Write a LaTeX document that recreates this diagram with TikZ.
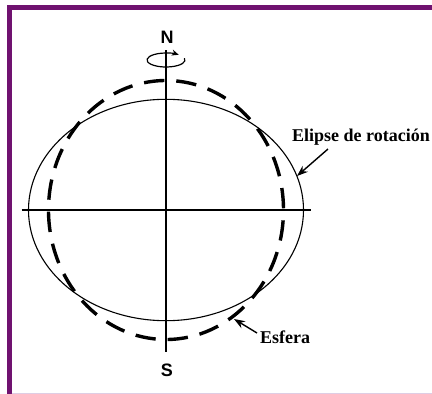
\documentclass[tikz,border=0pt]{standalone}
\usepackage{fontspec}
\setmainfont{Liberation Serif}
\setsansfont{Liberation Sans}
\usetikzlibrary{arrows.meta}
\definecolor{marco}{RGB}{112,18,112}
\definecolor{marcoclaro}{RGB}{222,205,228}
\begin{document}
\begin{tikzpicture}[x=1pt,y=-1pt,>={Stealth[length=11pt,width=8pt]},
  polo/.style={font=\sffamily\bfseries\fontsize{18}{18}\selectfont,inner sep=0pt},
  rotulo/.style={font=\bfseries\fontsize{18}{18}\selectfont,inner sep=0pt,anchor=base west},
  eje/.style={line width=1.1pt},
  flecha/.style={->,line width=1.4pt}]
\useasboundingbox (0,0) rectangle (432,394);
% marco
\draw[marco,line width=4.3pt] (9.5,394) -- (9.5,7.5) -- (432,7.5);
\draw[marcoclaro,line width=1.2pt] (11.7,393.2) -- (432,393.2);
% centro y polos
\coordinate (o) at (166,210);
\node[polo] (n) at (167,37) {N};
\node[polo] (s) at (167,370) {S};
\coordinate (ejeN) at (166,50);
\coordinate (ejeS) at (166,352);
\coordinate (ejeO) at (21.7,210);
\coordinate (ejeE) at (310.7,210);
% elipse de rotacion y esfera
\draw[eje] (o) ellipse [x radius=137.5, y radius=110.7];
\draw[line width=3.4pt,dash pattern=on 20.35pt off 12pt,dash phase=22pt] (o) ellipse [x radius=117.5, y radius=129.5];
% ejes
\draw[eje] (ejeN) -- (ejeS);
\draw[eje] (ejeO) -- (ejeE);
% giro
\coordinate (giro) at (166,60);
\draw[line width=1.2pt,-{Stealth[length=7pt,width=6pt]}] ([shift={(-15:19 and 7)}]giro) arc[start angle=-15,end angle=312,x radius=19,y radius=7];
% rotulos
\node[rotulo] (elipse) at (292,141.7) {Elipse de rotación};
\node[rotulo] (esfera) at (260,343) {Esfera};
\coordinate (colaElipse) at (328,149);
\coordinate (puntaElipse) at (297,176);
\coordinate (colaEsfera) at (257,333);
\coordinate (puntaEsfera) at (234,319);
\draw[flecha] (colaElipse) -- (puntaElipse);
\draw[flecha] (colaEsfera) -- (puntaEsfera);
\end{tikzpicture}
\end{document}
